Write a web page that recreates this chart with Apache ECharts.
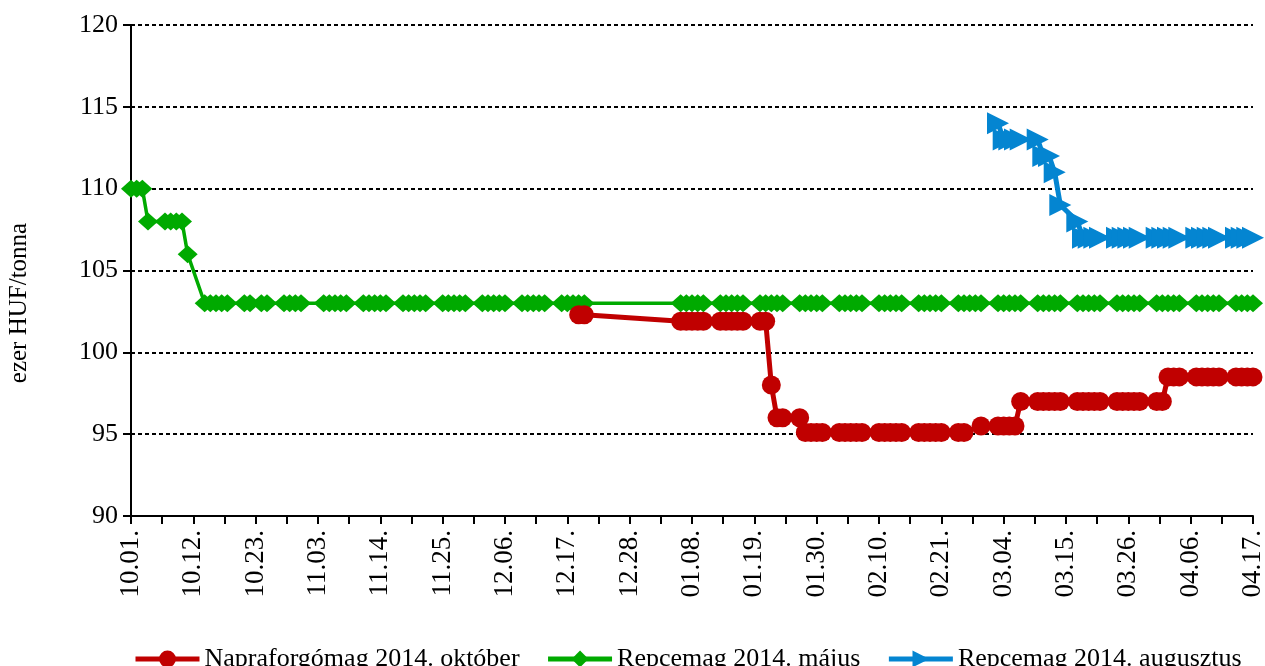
<!DOCTYPE html>
<html>
<head>
<meta charset="utf-8">
<title>Repcemag, napraforgómag</title>
<script src="https://cdn.jsdelivr.net/npm/echarts@6/dist/echarts.min.js"></script>
<style>
  html, body { margin: 0; padding: 0; background: #fff; }
  #chart { width: 1265px; height: 666px; }
</style>
</head>
<body>
<div id="chart"></div>
<script>
// trading days (weekdays, without holidays and the year-end break)
var days = [
  '2013-10-01','2013-10-02','2013-10-03','2013-10-04',
  '2013-10-07','2013-10-08','2013-10-09','2013-10-10','2013-10-11',
  '2013-10-14','2013-10-15','2013-10-16','2013-10-17','2013-10-18',
  '2013-10-21','2013-10-22','2013-10-24','2013-10-25',
  '2013-10-28','2013-10-29','2013-10-30','2013-10-31',
  '2013-11-04','2013-11-05','2013-11-06','2013-11-07','2013-11-08',
  '2013-11-11','2013-11-12','2013-11-13','2013-11-14','2013-11-15',
  '2013-11-18','2013-11-19','2013-11-20','2013-11-21','2013-11-22',
  '2013-11-25','2013-11-26','2013-11-27','2013-11-28','2013-11-29',
  '2013-12-02','2013-12-03','2013-12-04','2013-12-05','2013-12-06',
  '2013-12-09','2013-12-10','2013-12-11','2013-12-12','2013-12-13',
  '2013-12-16','2013-12-17','2013-12-18','2013-12-19','2013-12-20',
  '2014-01-06','2014-01-07','2014-01-08','2014-01-09','2014-01-10',
  '2014-01-13','2014-01-14','2014-01-15','2014-01-16','2014-01-17',
  '2014-01-20','2014-01-21','2014-01-22','2014-01-23','2014-01-24',
  '2014-01-27','2014-01-28','2014-01-29','2014-01-30','2014-01-31',
  '2014-02-03','2014-02-04','2014-02-05','2014-02-06','2014-02-07',
  '2014-02-10','2014-02-11','2014-02-12','2014-02-13','2014-02-14',
  '2014-02-17','2014-02-18','2014-02-19','2014-02-20','2014-02-21',
  '2014-02-24','2014-02-25','2014-02-26','2014-02-27','2014-02-28',
  '2014-03-03','2014-03-04','2014-03-05','2014-03-06','2014-03-07',
  '2014-03-10','2014-03-11','2014-03-12','2014-03-13','2014-03-14',
  '2014-03-17','2014-03-18','2014-03-19','2014-03-20','2014-03-21',
  '2014-03-24','2014-03-25','2014-03-26','2014-03-27','2014-03-28',
  '2014-03-31',
  '2014-04-01','2014-04-02','2014-04-03','2014-04-04',
  '2014-04-07','2014-04-08','2014-04-09','2014-04-10','2014-04-11',
  '2014-04-14','2014-04-15','2014-04-16','2014-04-17'
];

var xTickLabels = ['10.01.','10.12.','10.23.','11.03.','11.14.','11.25.','12.06.','12.17.','12.28.',
  '01.08.','01.19.','01.30.','02.10.','02.21.','03.04.','03.15.','03.26.','04.06.','04.17.'];

var seriesNames = ['Napraforgómag 2014. október', 'Repcemag 2014. május', 'Repcemag 2014. augusztus'];

// Napraforgómag 2014. október, from 2013-12-19
var napraStart = '2013-12-19';
var napraValues = [
  102.3, 102.3,
  101.9, 101.9, 101.9, 101.9, 101.9,
  101.9, 101.9, 101.9, 101.9, 101.9,
  101.9, 101.9, 98, 96, 96,
  96, 95.1, 95.1, 95.1, 95.1,
  95.1, 95.1, 95.1, 95.1, 95.1,
  95.1, 95.1, 95.1, 95.1, 95.1,
  95.1, 95.1, 95.1, 95.1, 95.1,
  95.1, 95.1, null, null, 95.5,
  95.5, 95.5, 95.5, 95.5, 97,
  97, 97, 97, 97, 97,
  97, 97, 97, 97, 97,
  97, 97, 97, 97, 97,
  97,
  97, 98.5, 98.5, 98.5,
  98.5, 98.5, 98.5, 98.5, 98.5,
  98.5, 98.5, 98.5, 98.5
];

// Repcemag 2014. május, from 2013-10-01
var repceMajStart = '2013-10-01';
var repceMajValues = [
  110, 110, 110, 108,
  108, 108, 108, 108, 106,
  103, 103, 103, 103, 103,
  103, 103, 103, 103,
  103, 103, 103, 103,
  103, 103, 103, 103, 103,
  103, 103, 103, 103, 103,
  103, 103, 103, 103, 103,
  103, 103, 103, 103, 103,
  103, 103, 103, 103, 103,
  103, 103, 103, 103, 103,
  103, 103, 103, 103, 103,
  103, 103, 103, 103, 103,
  103, 103, 103, 103, 103,
  103, 103, 103, 103, 103,
  103, 103, 103, 103, 103,
  103, 103, 103, 103, 103,
  103, 103, 103, 103, 103,
  103, 103, 103, 103, 103,
  103, 103, 103, 103, 103,
  103, 103, 103, 103, 103,
  103, 103, 103, 103, 103,
  103, 103, 103, 103, 103,
  103, 103, 103, 103, 103,
  103,
  103, 103, 103, 103,
  103, 103, 103, 103, 103,
  103, 103, 103, 103
];

// Repcemag 2014. augusztus, from 2014-03-03
var repceAugStart = '2014-03-03';
var repceAugValues = [
  114, 113, 113, 113, 113,
  113, 112, 112, 111, 109,
  108, 107, 107, 107, 107,
  107, 107, 107, 107, 107,
  107,
  107, 107, 107, 107,
  107, 107, 107, 107, 107,
  107, 107, 107, 107
];

var START = Date.UTC(2013, 9, 1);
function dayIndex(s) {
  var p = s.split('-').map(Number);
  return Math.round((Date.UTC(p[0], p[1] - 1, p[2]) - START) / 86400000);
}
function toPoints(startDate, values) {
  var i0 = days.indexOf(startDate);
  var out = [];
  values.forEach(function (v, i) {
    if (v !== null) out.push([dayIndex(days[i0 + i]), v]);
  });
  return out;
}

var FONT = '"Liberation Serif", "Times New Roman", serif';
var myChart = echarts.init(document.getElementById('chart'));

var option = {
  animation: false,
  backgroundColor: '#fff',
  textStyle: { fontFamily: FONT, color: '#000' },
  grid: { left: 131, right: 12, top: 25, bottom: 150, containLabel: false, outerBoundsMode: 'none' },
  legend: {
    left: 128,
    top: 641,
    itemWidth: 64,
    itemHeight: 21,
    itemGap: 26,
    lineStyle: { width: 5 },
    textStyle: { fontFamily: FONT, fontSize: 26, color: '#000' },
    data: seriesNames
  },
  xAxis: {
    type: 'value',
    min: 0,
    max: (xTickLabels.length - 1) * 11,
    interval: 5.5,
    axisLine: { lineStyle: { color: '#000', width: 2 } },
    axisTick: { show: true, length: 8, lineStyle: { color: '#000', width: 2 } },
    axisLabel: {
      rotate: 90,
      margin: 14,
      fontFamily: FONT,
      fontSize: 27,
      color: '#000',
      formatter: function (v) {
        var k = v / 11, r = Math.round(k);
        return Math.abs(k - r) < 1e-6 ? (xTickLabels[r] || '') : '';
      }
    },
    splitLine: { show: false }
  },
  yAxis: {
    type: 'value',
    min: 90,
    max: 120,
    interval: 5,
    name: 'ezer HUF/tonna',
    nameLocation: 'middle',
    nameRotate: 90,
    nameGap: 99,
    nameTextStyle: { fontFamily: FONT, fontSize: 25, color: '#000', padding: [0, 65, 0, 0] },
    axisLine: { show: true, lineStyle: { color: '#000', width: 2 } },
    axisTick: { show: true, length: 8, lineStyle: { color: '#000', width: 2 } },
    axisLabel: { margin: 13, fontFamily: FONT, fontSize: 26, color: '#000' },
    splitLine: { show: true, lineStyle: { color: '#000', width: 2, type: [4, 3] } }
  },
  series: [
    {
      name: seriesNames[0],
      type: 'line',
      data: toPoints(napraStart, napraValues),
      symbol: 'circle',
      symbolSize: 19,
      z: 5,
      lineStyle: { color: '#c00000', width: 5 },
      itemStyle: { color: '#c00000' }
    },
    {
      name: seriesNames[1],
      type: 'line',
      data: toPoints(repceMajStart, repceMajValues),
      symbol: 'diamond',
      symbolSize: [20, 18],
      z: 3,
      lineStyle: { color: '#00aa00', width: 3.5 },
      itemStyle: { color: '#00aa00' }
    },
    {
      name: seriesNames[2],
      type: 'line',
      data: toPoints(repceAugStart, repceAugValues),
      symbol: 'triangle',
      symbolSize: 22,
      symbolRotate: -90,
      z: 4,
      lineStyle: { color: '#0485d1', width: 5 },
      itemStyle: { color: '#0485d1' }
    }
  ]
};
myChart.setOption(option);
</script>
</body>
</html>
